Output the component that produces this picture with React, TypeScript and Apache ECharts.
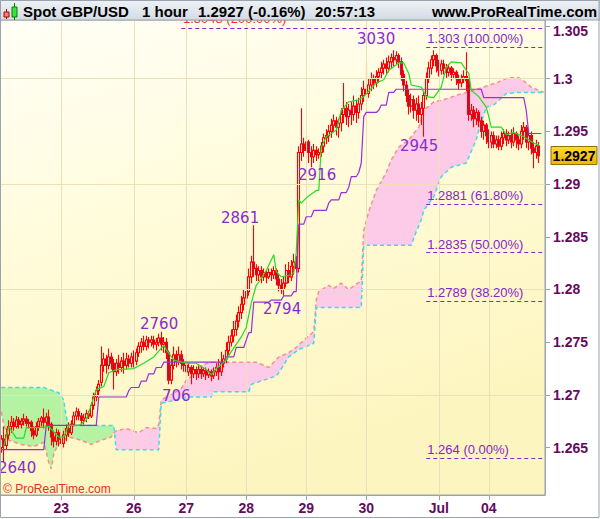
import React, { useEffect, useRef } from 'react';
import * as echarts from 'echarts';

// Prices are stored in pips above 1.2600 (1 pip = 0.0001)
const BASE = 1.26;
const PIP = 0.0001;

const opens = [
  50,58,52,62,70,74,70,76,72,75, 77,73,74,66,62,70,75,78,74,79,
  72,60,56,64,58,54,62,68,64,72, 80,84,80,76,78,82,80,90,98,104,
  112,128,134,128,136,130,122,130,126,132, 128,134,130,136,132,140,146,150,146,152,
  150,152,148,150,154,148,150,140,114,128, 138,132,138,130,128,122,126,120,124,120,
  124,120,123,119,122,118,122,126,122,130, 134,142,150,156,162,170,178,186,192,198,
  212,226,220,214,218,212,216,212,216,214, 218,210,204,200,206,218,212,222,226,220,
  330,338,332,340,330,326,332,328,330,336, 344,346,350,356,360,354,358,366,372,364,
  370,366,374,368,376,384,390,386,394,400, 396,402,406,410,414,410,416,420,418,422,
  416,404,394,384,374,380,370,376,366,372, 384,400,410,418,422,412,408,414,410,406,
  410,404,406,400,396,400,402,398,366,370, 362,368,360,350,356,346,340,346,338,342,
  336,344,348,342,346,340,348,342,338,350, 354,340,346,334,330,336,
];
const closes = [
  58,52,62,70,74,70,76,72,75,77, 73,74,66,62,70,75,78,74,79,72,
  60,56,64,58,54,62,68,64,72,80, 84,80,76,78,82,80,90,98,104,110,
  128,134,128,136,130,122,130,126,132,128, 134,130,136,132,140,146,150,146,152,150,
  152,148,150,154,148,150,140,114,128,138, 132,138,130,128,122,126,120,124,120,124,
  120,123,119,122,118,122,126,122,130,134, 142,150,156,162,170,178,186,192,198,212,
  226,220,214,218,212,216,212,216,214,218, 210,204,200,206,218,212,222,226,220,330,
  338,332,340,330,326,332,328,330,336,344, 346,350,356,360,354,358,366,372,364,370,
  366,374,368,376,384,390,386,394,400,396, 402,406,410,414,410,416,420,418,422,416,
  404,394,384,374,380,370,376,366,372,384, 400,410,418,422,412,408,414,410,406,410,
  404,406,400,396,400,402,398,366,370,362, 368,360,350,356,346,340,346,338,342,336,
  344,348,342,346,340,348,342,338,350,354, 340,346,334,330,336,327,
];
const lows = [
  45,36,48,58,64,66,68,68,68,71, 70,68,60,58,60,66,70,68,70,66,
  52,50,52,51,48,50,56,60,62,70, 76,76,72,72,74,77,78,86,94,100,
  108,122,120,124,124,105,118,120,122,120, 124,126,126,126,128,136,140,142,142,144,
  146,144,142,146,142,140,134,110,110,124, 126,128,124,122,116,118,110,116,114,116,
  115,117,114,116,113,115,118,114,118,126, 130,138,146,150,156,164,172,180,186,194,
  206,212,208,208,206,208,206,210,208,210, 204,198,196,194,202,206,208,214,216,216,
  322,326,328,320,316,320,322,324,326,330, 338,340,344,350,346,344,350,358,356,354,
  356,360,358,362,370,378,378,382,388,390, 392,396,400,404,404,406,410,412,414,410,
  398,388,378,366,368,362,360,358,356,345, 380,396,404,412,406,402,404,404,400,402,
  398,400,394,390,392,396,388,360,360,354, 356,354,344,342,338,334,334,334,334,332,
  332,338,336,338,334,336,334,332,334,342, 334,332,328,315,324,320,
];
const highs = [
  62,70,68,76,80,78,80,79,78,82, 80,77,76,70,74,78,80,87,83,86,
  74,66,68,67,62,66,72,74,76,84, 88,87,83,82,86,85,93,102,108,114,
  146,140,138,144,140,134,134,138,136,140, 140,138,140,142,144,150,154,156,156,155,
  156,156,154,158,160,155,154,142,134,146, 142,146,142,134,132,130,128,128,127,128,
  127,126,126,125,124,126,130,134,141,138, 150,156,162,170,176,184,194,200,206,220,
  232,261,224,222,222,220,219,220,220,222, 220,214,210,212,224,226,228,234,232,336,
  372,344,346,342,336,338,336,334,340,348, 352,356,362,366,364,362,372,396,378,376,
  378,384,380,382,392,398,415,400,406,404, 408,410,416,418,420,422,424,427,426,424,
  420,408,398,390,386,384,382,384,378,388, 406,416,422,427,424,418,418,418,414,414,
  412,410,408,404,404,408,425,400,376,374, 372,370,364,360,358,352,350,350,346,346,
  350,352,352,350,352,354,350,346,356,359, 356,352,350,340,342,340,
];

// [candle index, pips] points
const tenkanPts = [
  [1,51],[3,70],[6,59],[9,59],[10,69],[15,69],[19,70],[23,60],[25,60],[27,71],[31,71],[34,76],
  [38,105],[41,108],[43,121],[46,124],[53,125],[57,130],[61,136],[65,147],[66,143],[69,133],
  [74,130],[78,130],[82,124],[84,119],[86,125],[90,133],[92,141],[96,155],[98,164],[100,187],
  [102,204],[103,207],[106,218],[108,228],[109,233],[110,217],[112,212],[116,214],[117,216],
  [118,235],[119,285],[120,282],[122,287],[126,294],[127,294],[128,335],[129,340],[130,345],
  [134,351],[136,370],[139,378],[143,380],[145,383],[150,396],[153,399],[155,408],[159,415],
  [161,415],[163,405],[164,394],[168,392],[170,383],[173,382],[176,392],[178,411],[180,416],
  [184,415],[186,408],[187,405],[188,389],[191,383],[194,373],[195,364],[196,354],[200,354],
  [202,347],[205,349],[209,345],[213,339],[215,337],
];
const kijunPts = [
  [0,48],[17,48],[18,71],[38,71],[39,98],[50,98],[51,104],[52,107],[55,107],[56,113],[58,113],
  [59,120],[61,120],[62,126],[64,126],[65,131],[89,131],[90,136],[93,136],[94,145],[97,145],
  [98,152],[99,159],[100,159],[101,188],[107,188],[108,190],[112,190],[113,194],[116,194],
  [117,198],[118,198],[119,262],[121,262],[122,269],[124,269],[125,275],[130,275],[131,282],
  [132,285],[135,285],[136,292],[138,292],[139,297],[140,307],[142,307],[143,311],[144,320],
  [145,364],[146,368],[150,368],[151,370],[152,375],[154,375],[155,387],[157,387],[158,390],
  [192,390],[193,382],[209,382],[210,370],[211,348],[216,348],
];
const spanAPts = [
  [0,84],[1,72],[3,57],[8,53],[13,51],[17,55],[19,36],[20,30],[21,44],[23,54],[27,60],[32,57],
  [36,53],[40,57],[44,60],[45,64],[46,66],[50,68],[55,64],[58,69],[62,68],[63,72],[64,95],
  [66,98],[68,100],[70,103],[72,106],[74,114],[78,121],[80,128],[84,131],[102,131],[107,126],
  [111,136],[115,140],[118,145],[122,154],[125,160],[126,190],[127,198],[131,204],[133,201],
  [136,206],[139,200],[142,205],[144,208],[145,256],[147,274],[150,294],[154,311],[156,323],
  [159,335],[163,342],[167,354],[169,370],[173,378],[177,380],[183,385],[189,389],[198,396],
  [203,401],[207,401],[210,396],[212,392],[217,387],
];
const spanBPts = [
  [0,107],[17,107],[23,102],[25,95],[26,79],[27,71],[45,71],[46,48],[63,48],[64,92],[75,98],
  [84,98],[85,103],[99,103],[100,110],[110,118],[111,121],[115,136],[119,143],[125,149],
  [126,183],[144,183],[145,242],[164,242],[166,255],[168,266],[169,275],[173,288],[176,307],
  [180,316],[186,320],[190,342],[191,351],[194,373],[197,375],[202,386],[207,387],[217,387],
];
const CLOUD_SWITCH = 45; // green cloud up to here, pink after

const dayTickIndex = [24, 53, 74, 98, 122, 146, 175, 195];
const dayTickLabels = ['23', '26', '27', '28', '29', '30', 'Jul', '04'];
const priceTicks = [1.265, 1.27, 1.275, 1.28, 1.285, 1.29, 1.295, 1.3, 1.305];

const fibValues = [1.30481, 1.303, 1.2881, 1.2835, 1.2789, 1.264];
const fibTexts = ['1.3048 (200.00%)', '1.303 (100.00%)', '1.2881 (61.80%)', '1.2835 (50.00%)', '1.2789 (38.20%)', '1.264 (0.00%)'];
const fibStart = [72, 170, 170, 170, 170, 170];

const pointLabels = ['2640', '2760', '706', '2861', '2794', '2916', '3030', '2945'];
const lastPrice = '1.2927';
const headerTexts = ['Spot GBP/USD', '1 hour', '1.2927 (-0.16%)', '20:57:13'];

const NUM_CATS = 218;
const Y_MIN = 1.2605;
const Y_MAX = 1.30557;

const px = (p: number) => +(BASE + p * PIP).toFixed(5);

const ARIAL = '"Liberation Sans", Arial, sans-serif';
const DEJAVU = '"DejaVu Sans", Verdana, sans-serif';
const AXIS_COLOR = '#9aa4ae';
const LABEL_COLOR = '#660a5e';
const FIB_COLOR = '#8626c6';
const NOTE_COLOR = '#8a2bd0';

function buildOption(): any {
  const cats = Array.from({ length: NUM_CATS }, (_, i) => String(i));
  const candles = opens.map((o, i) => [px(o), px(closes[i]), px(lows[i]), px(highs[i])]);
  const toLine = (pts: number[][]) => pts.map(([i, v]) => [i, px(v)]);
  const showTick = (index: number) => dayTickIndex.indexOf(index) >= 0;

  const notePos: [number, number][] = [
    [-2, 468], [140, 324], [162, 396], [221, 218], [263, 309], [298, 175], [357, 39], [400, 146],
  ];

  // the first (top) level's label sits under the header bar, drawn as a graphic
  const fibLines = fibValues.map((v, k) => [
    {
      coord: [fibStart[k], v],
      label: {
        show: k > 0,
        position: 'insideStartTop',
        formatter: fibTexts[k],
        color: FIB_COLOR,
        fontSize: 13,
        fontFamily: ARIAL,
        distance: [1, 2],
      },
    },
    { coord: [NUM_CATS - 1, v] },
  ]);

  const headerX = [23, 142, 198, 315];

  return {
    animation: false,
    backgroundColor: '#ffffff',
    grid: {
      left: 0,
      right: 55,
      top: 20,
      bottom: 24,
      show: true,
      borderColor: AXIS_COLOR,
      borderWidth: 1,
      backgroundColor: {
        type: 'linear', x: 0, y: 0, x2: 0.35, y2: 1,
        colorStops: [
          { offset: 0, color: '#fffff7' },
          { offset: 0.5, color: '#fffbd8' },
          { offset: 1, color: '#fdf5bf' },
        ],
      },
    },
    xAxis: {
      type: 'category',
      data: cats,
      boundaryGap: true,
      axisLine: { show: true, lineStyle: { color: AXIS_COLOR } },
      axisTick: { show: true, interval: showTick, alignWithLabel: true, length: 5, lineStyle: { color: AXIS_COLOR } },
      axisLabel: {
        interval: showTick,
        formatter: (_v: string, index: number) => {
          const k = dayTickIndex.indexOf(index);
          return k >= 0 ? dayTickLabels[k] : '';
        },
        color: LABEL_COLOR,
        fontWeight: 'bold',
        fontSize: 14,
        fontFamily: ARIAL,
        margin: 6,
      },
      splitLine: { show: false },
    },
    yAxis: {
      type: 'value',
      position: 'right',
      min: Y_MIN,
      max: Y_MAX,
      axisLine: { show: true, lineStyle: { color: AXIS_COLOR } },
      axisTick: { show: true, length: 5, customValues: priceTicks, lineStyle: { color: AXIS_COLOR } },
      axisLabel: {
        customValues: priceTicks,
        formatter: (v: number) => {
          const s = String(+v.toFixed(3));
          return v > 1.3025 ? `{top|${s}}` : s;
        },
        rich: {
          top: { padding: [10, 0, 0, 0], color: LABEL_COLOR, fontWeight: 'bold', fontSize: 14, fontFamily: ARIAL },
        },
        color: LABEL_COLOR,
        fontWeight: 'bold',
        fontSize: 14,
        fontFamily: ARIAL,
        margin: 8,
      },
      splitLine: { show: false },
    },
    series: [
      {
        name: 'grid',
        type: 'line',
        data: [],
        z: 1,
        silent: true,
        markLine: {
          silent: true,
          symbol: ['none', 'none'],
          label: { show: false },
          lineStyle: { color: '#e8e1b9', type: 'solid', width: 1 },
          data: [
            ...priceTicks.map((v) => ({ yAxis: v })),
            ...dayTickIndex.map((i) => ({ xAxis: i })),
          ],
        },
      },
      {
        name: 'cloud',
        type: 'custom',
        z: 2,
        silent: true,
        clip: true,
        data: [[0, 1.28]],
        renderItem: (_params: any, api: any) => {
          const toPt = (q: number[]) => api.coord([q[0], px(q[1])]);
          const aG = spanAPts.filter((q) => q[0] <= CLOUD_SWITCH);
          const bG = spanBPts.filter((q) => q[0] <= CLOUD_SWITCH);
          const aP = spanAPts.filter((q) => q[0] >= CLOUD_SWITCH);
          const bP = spanBPts.filter((q) => q[0] > CLOUD_SWITCH);
          return {
            type: 'group',
            children: [
              {
                type: 'polygon',
                shape: { points: [...aG.map(toPt), ...bG.slice().reverse().map(toPt)] },
                style: { fill: '#b5f2a2', stroke: 'none' },
              },
              {
                type: 'polygon',
                shape: { points: [...aP.map(toPt), ...bP.slice().reverse().map(toPt)] },
                style: { fill: '#fdcbe8', stroke: 'none' },
              },
            ],
          };
        },
      },
      {
        name: 'spanA',
        type: 'line',
        z: 3,
        silent: true,
        symbol: 'none',
        data: toLine(spanAPts),
        lineStyle: { color: '#f39191', width: 1.5, type: [4, 3] },
      },
      {
        name: 'spanB',
        type: 'line',
        z: 3,
        silent: true,
        symbol: 'none',
        data: toLine(spanBPts),
        lineStyle: { color: '#3cdcec', width: 1.5, type: [4, 3] },
      },
      {
        name: 'price',
        type: 'candlestick',
        z: 4,
        silent: true,
        barWidth: 2.4,
        data: candles,
        itemStyle: {
          color: 'rgba(255,255,255,0)',
          color0: '#7a2470',
          borderColor: '#ff0000',
          borderColor0: '#ff0000',
          borderWidth: 1.1,
        },
      },
      {
        name: 'kijun',
        type: 'line',
        z: 5,
        silent: true,
        symbol: 'none',
        data: toLine(kijunPts),
        lineStyle: { color: '#9a2fd6', width: 1.2 },
      },
      {
        name: 'tenkan',
        type: 'line',
        z: 5,
        silent: true,
        symbol: 'none',
        data: toLine(tenkanPts),
        lineStyle: { color: '#22dd22', width: 1.2 },
        markLine: {
          silent: true,
          symbol: ['none', 'none'],
          lineStyle: { color: FIB_COLOR, type: [4, 3], width: 1 },
          data: fibLines,
        },
      },
    ],
    graphic: {
      elements: [
        // annotation numbers
        ...pointLabels.map((t, k) => ({
          type: 'text',
          z: 50,
          x: notePos[k][0],
          y: notePos[k][1],
          style: { text: t, fill: NOTE_COLOR, font: `15px ${DEJAVU}`, align: 'left', verticalAlign: 'middle' },
        })),
        {
          type: 'text', z: 50, x: 3, y: 489,
          style: { text: '© ProRealTime.com', fill: '#e8302a', font: `12px ${ARIAL}`, align: 'left', verticalAlign: 'middle' },
        },
        // top fibonacci label, mostly hidden by the header bar
        {
          type: 'text', z: 90, x: 183, y: 18,
          style: { text: fibTexts[0], fill: '#ff2a2a', font: `13px ${ARIAL}`, align: 'left', verticalAlign: 'middle' },
        },
        // last price box
        {
          type: 'rect', z: 60,
          shape: { x: 551, y: 146.5, width: 46, height: 18 },
          style: {
            fill: { type: 'linear', x: 0, y: 0, x2: 0, y2: 1, colorStops: [{ offset: 0, color: '#ffd83a' }, { offset: 1, color: '#f0b400' }] },
            stroke: '#8c7400', lineWidth: 1,
          },
        },
        {
          type: 'text', z: 61, x: 574, y: 156,
          style: { text: lastPrice, fill: '#000000', font: `bold 14px ${ARIAL}`, align: 'center', verticalAlign: 'middle' },
        },
        // header bar
        {
          type: 'rect', z: 100,
          shape: { x: 0, y: 0, width: 600, height: 20 },
          style: {
            fill: { type: 'linear', x: 0, y: 0, x2: 0, y2: 1, colorStops: [{ offset: 0, color: '#eef2f6' }, { offset: 1, color: '#d3dbe3' }] },
            stroke: AXIS_COLOR, lineWidth: 1,
          },
        },
        { type: 'line', z: 101, shape: { x1: 6.5, y1: 9, x2: 6.5, y2: 19 }, style: { stroke: '#c00000', lineWidth: 1 } },
        { type: 'rect', z: 102, shape: { x: 4, y: 12, width: 5, height: 5 }, style: { fill: '#f08080', stroke: '#b00000', lineWidth: 1 } },
        { type: 'line', z: 101, shape: { x1: 14.5, y1: 3, x2: 14.5, y2: 20 }, style: { stroke: '#008000', lineWidth: 1 } },
        { type: 'rect', z: 102, shape: { x: 12, y: 7, width: 5, height: 10 }, style: { fill: '#3ee03e', stroke: '#008000', lineWidth: 1 } },
        ...headerTexts.map((t, k) => ({
          type: 'text', z: 103, x: headerX[k], y: 11,
          style: { text: t, fill: '#000000', font: `bold 15px ${ARIAL}`, align: 'left', verticalAlign: 'middle' },
        })),
        {
          type: 'text', z: 103, x: 597, y: 11,
          style: { text: 'www.ProRealTime.com', fill: '#000000', font: `bold 15px ${ARIAL}`, align: 'right', verticalAlign: 'middle' },
        },
        // outer frame
        {
          type: 'rect', z: 104, silent: true,
          shape: { x: 0.5, y: 0.5, width: 598.5, height: 517 },
          style: { fill: 'none', stroke: AXIS_COLOR, lineWidth: 1 },
        },
      ],
    },
  };
}

export default function App() {
  const ref = useRef<HTMLDivElement>(null);
  useEffect(() => {
    document.body.style.margin = '0';
    const chart = echarts.init(ref.current as HTMLDivElement, undefined, { renderer: 'svg' });
    chart.setOption(buildOption());
    return () => chart.dispose();
  }, []);
  return <div ref={ref} style={{ width: 600, height: 519, position: 'absolute', left: 0, top: 0 }} />;
}
